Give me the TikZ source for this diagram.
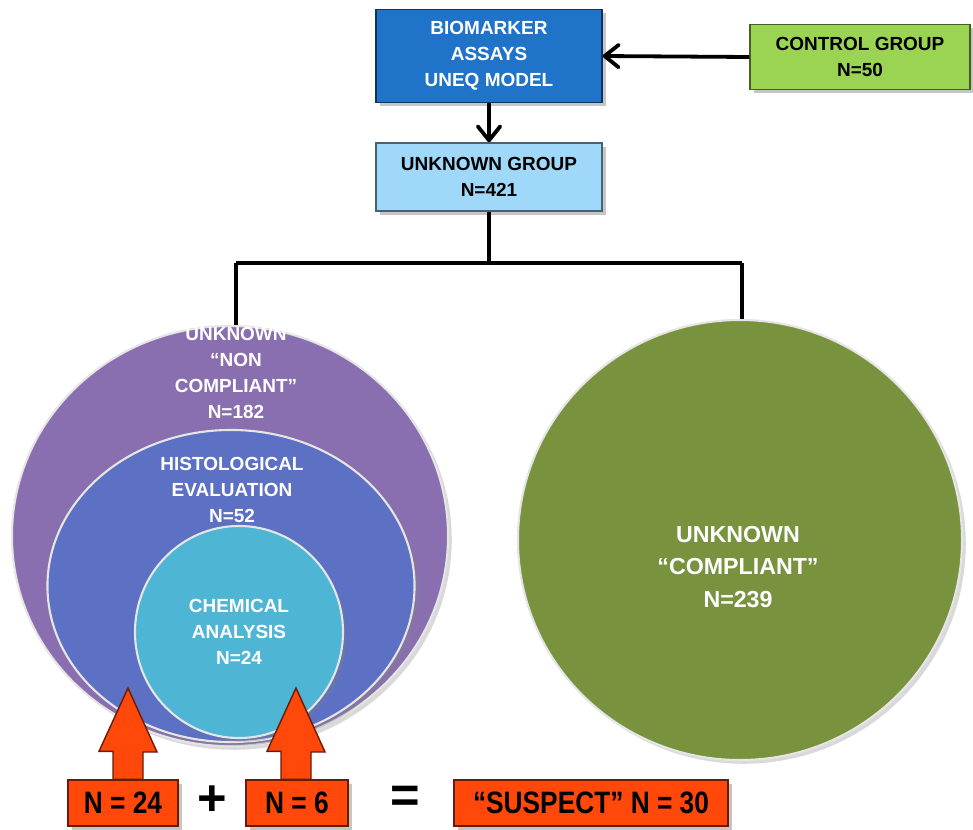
\documentclass[tikz,border=0pt]{standalone}
\usepackage{fontspec}
\setmainfont{Liberation Sans}
\newfontfamily\narrowfont[FakeStretch=0.85]{Liberation Sans}
\usepackage{tikz}
\usetikzlibrary{arrows.meta,shapes.geometric,shadows,calc}
\usepackage{xcolor}
\definecolor{bioblue}{RGB}{31,116,201}
\definecolor{ctrlgreen}{RGB}{155,212,82}
\definecolor{unkblue}{RGB}{160,216,250}
\definecolor{ncpurple}{RGB}{138,111,176}
\definecolor{histblue}{RGB}{92,112,196}
\definecolor{chemcyan}{RGB}{78,182,212}
\definecolor{compgreen}{RGB}{120,146,62}
\definecolor{suspred}{RGB}{255,72,10}
\newcommand{\tbf}{\textbf}

\begin{document}
\begin{tikzpicture}[x=0.025cm,y=-0.025cm,>={Straight Barb[length=10pt,width=16pt,round]},
  flowbox/.style={draw=#1!45!black, line width=1pt, fill=#1, align=center, inner sep=0pt,
    font=\fontsize{13.5}{18.5}\selectfont\bfseries, drop shadow={opacity=0.45}},
  blob/.style={ellipse, fill=#1, draw=white!80!gray, line width=1.5pt, inner sep=0pt,
    drop shadow={opacity=0.3}},
  wtext/.style={text=white, align=center, font=\fontsize{13.5}{18.5}\selectfont\bfseries},
  redbox/.style={draw=suspred!40!black, line width=1pt, fill=suspred, minimum height=1.15cm,
    inner sep=0pt, font=\narrowfont\fontsize{22}{24}\selectfont\bfseries, drop shadow={opacity=0.45}},
  bigarrow/.style={draw=suspred!40!black, line width=1pt, fill=suspred},
  sign/.style={font=\fontsize{36}{36}\selectfont\bfseries},
  link/.style={line width=2.7pt}]
\useasboundingbox (0,0) rectangle (973,829);

\node[flowbox=bioblue, text=white, minimum width=5.65cm, minimum height=2.325cm] (bio) at (489,56)
  {BIOMARKER\\ASSAYS\\UNEQ MODEL};
\node[flowbox=ctrlgreen, minimum width=5.5cm, minimum height=1.625cm] (ctrl) at (860,57)
  {CONTROL GROUP\\N=50};
\node[flowbox=unkblue, minimum width=5.65cm, minimum height=1.7cm] (unk) at (489,177)
  {UNKNOWN GROUP\\N=421};

\draw[link,->] (ctrl.west) -- (bio.east);
\draw[link,->] (bio.south) -- (unk.north);

\coordinate (lsplit) at (236,263);
\coordinate (rsplit) at (742,263);

\node[blob=ncpurple, minimum width=10.9cm, minimum height=10.5cm] (noncomp) at (230,536) {};
\node[blob=histblue, minimum width=9.175cm, minimum height=7.8cm] (hist) at (231,586) {};
\node[blob=chemcyan, minimum width=5.2cm, minimum height=5.3cm] (chem) at (239,632) {};
\node[blob=compgreen, minimum width=11.1cm, minimum height=11cm] (comp) at (740,540) {};

\draw[link] (unk.south) -- (unk.south |- lsplit);
\draw[link] (lsplit) -- (rsplit);
\draw[link] (lsplit) -- (lsplit |- noncomp.north);
\draw[link] (rsplit) -- (rsplit |- comp.north);

\node[wtext] (noncomptxt) at (236,373) {UNKNOWN\\“NON\\COMPLIANT”\\N=182};
\node[wtext] (histtxt) at (232,490) {HISTOLOGICAL\\EVALUATION\\N=52};
\node[wtext] (chemtxt) at (239,632) {CHEMICAL\\ANALYSIS\\N=24};
\node[wtext, font=\fontsize{16.5}{23}\selectfont\bfseries] (comptxt) at (738,567)
  {UNKNOWN\\“COMPLIANT”\\N=239};

\node[redbox, minimum width=2.75cm] (nfirst) at (123,803) {N = 24};
\node[redbox, minimum width=2.55cm] (nsecond) at (297,803) {N = 6};
\node[redbox, minimum width=6.85cm] (suspect) at (591,803) {“SUSPECT” N = 30};
\node[sign] (plus) at (212,801) {+};
\node[sign] (equal) at (405,799) {=};

\coordinate (tipa) at (128,688);
\coordinate (tipb) at (296,688);
\filldraw[bigarrow] (tipa) -- ++(29,64) -- ++(-14,0) -- ($(tipa |- nfirst.north)+(15,0)$)
  -- ($(tipa |- nfirst.north)+(-15,0)$) -- ++(0,-28) -- ++(-14,0) -- cycle;
\filldraw[bigarrow] (tipb) -- ++(29,64) -- ++(-14,0) -- ($(tipb |- nsecond.north)+(15,0)$)
  -- ($(tipb |- nsecond.north)+(-15,0)$) -- ++(0,-28) -- ++(-14,0) -- cycle;
\end{tikzpicture}
\end{document}
